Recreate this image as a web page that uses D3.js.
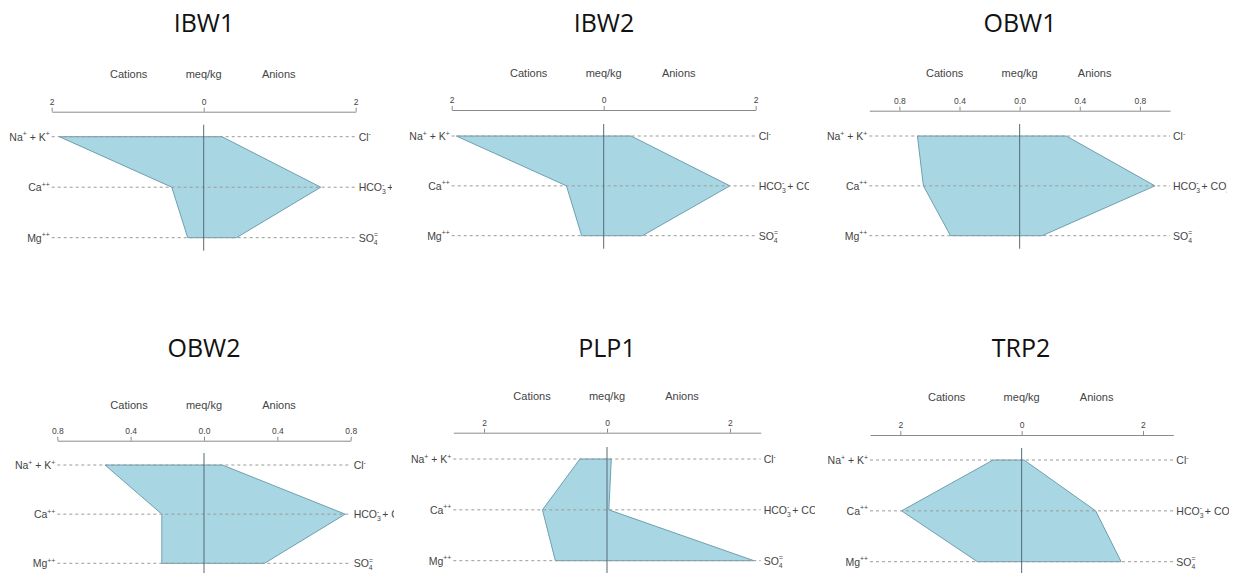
<!DOCTYPE html>
<html>
<head>
<meta charset="utf-8">
<script src="https://d3js.org/d3.v7.min.js"></script>
<style>
  body { margin: 0; background: #fff; }
  svg { display: block; }
  .title { font-family: 'Open Sans', sans-serif; font-size: 25px; fill: #111; }
  .small { font-family: 'Liberation Sans', Arial, sans-serif; fill: #444; }
  .axis path, .axis line { stroke: #8a8a8a; }
</style>
</head>
<body>
<div id="chart"></div>
<script>

// sample names, one panel each
var panelNames = ['IBW1', 'IBW2', 'OBW1', 'OBW2', 'PLP1', 'TRP2']

// cations (left side, meq/kg)
var naK = [1.90, 1.94, 0.68, 0.54, 0.44, 0.47]
var ca  = [0.42, 0.49, 0.64, 0.23, 1.05, 1.98]
var mg  = [0.21, 0.29, 0.46, 0.23, 0.84, 0.73]

// anions (right side, meq/kg)
var cl   = [0.24, 0.36, 0.31, 0.10, 0.07, 0.04]
var hco3 = [1.54, 1.66, 0.90, 0.77, 0.03, 1.22]
var so4  = [0.43, 0.51, 0.15, 0.33, 2.39, 1.64]

// axis domains and tick values per panel
var domains = [[-2, 2], [-2, 2], [-1, 1], [-0.8, 0.8], [-2.5, 2.5], [-2.5, 2.5]]
var tickSets = [
  [-2, 0, 2], [-2, 0, 2],
  [-0.8, -0.4, 0, 0.4, 0.8], [-0.8, -0.4, 0, 0.4, 0.8],
  [-2, 0, 2], [-2, 0, 2]
]
var tickDecimals = [0, 0, 1, 1, 0, 0]

// row labels, ^{} = superscript, _{} = subscript
var cationLabels = ['Na^{+} + K^{+}', 'Ca^{++}', 'Mg^{++}']
var anionLabels = ['Cl^{-}', 'HCO_{3}^{-} + CO_{3}^{=}', 'SO_{4}^{=}']
var headerLabels = ['Cations', 'meq/kg', 'Anions']

// placement of each panel on the page (not data)
var layout = [
  { range: [51.7, 355.7], axisY: 111.7, headY: 74, rows: [136.7, 187.7, 237.7], titleX: 204, titleY: 32, clip: [0, 0, 392, 300] },
  { range: [451.7, 755.7], axisY: 110, headY: 72.7, rows: [136, 186, 235.7], titleX: 604, titleY: 32, clip: [400, 0, 809, 300] },
  { range: [869.3, 1170], axisY: 110.7, headY: 72.7, rows: [136, 186, 235.7], titleX: 1020, titleY: 32, clip: [820, 0, 1227, 300] },
  { range: [57.3, 350.7], axisY: 440.7, headY: 405, rows: [465, 514.3, 563.3], titleX: 204, titleY: 357, clip: [0, 320, 394, 573] },
  { range: [453.3, 760.7], axisY: 432.7, headY: 396, rows: [459, 510, 560.7], titleX: 607, titleY: 357, clip: [400, 320, 815, 573] },
  { range: [870, 1173.3], axisY: 435, headY: 397.3, rows: [460, 510.7, 561.7], titleX: 1021, titleY: 357, clip: [820, 320, 1229, 573] }
]

var W = 1244, H = 573
var labelSize = 10.5

var svg = d3.select('#chart')
  .append('svg')
  .attr('width', W)
  .attr('height', H)

var defs = svg.append('defs')

// writes a label with super/subscripts into a text element
function richText(sel, str, size) {
  var parts = []
  var re = /(\^\{[^}]*\}|_\{[^}]*\})/g
  var last = 0, m
  while ((m = re.exec(str)) !== null) {
    if (m.index > last) parts.push({ t: str.slice(last, m.index), k: 'n' })
    parts.push({ t: m[0].slice(2, -1), k: m[0][0] == '^' ? 'sup' : 'sub' })
    last = re.lastIndex
  }
  if (last < str.length) parts.push({ t: str.slice(last), k: 'n' })

  var shift = 0, prev = 'n'
  parts.forEach(function(p) {
    var ts = sel.append('tspan').text(p.t)
    var target = p.k == 'sup' ? -size * 0.4 : p.k == 'sub' ? size * 0.3 : 0
    ts.attr('dy', target - shift)
    shift = target
    if (p.k != 'n') ts.style('font-size', (size * 0.65) + 'px')
    // stack superscript on top of the preceding subscript
    if (p.k == 'sup' && prev == 'sub') ts.attr('dx', -size * 0.36)
    prev = p.k
  })
}

panelNames.forEach(function(name, i) {
  var L = layout[i]

  defs.append('clipPath')
    .attr('id', 'clip' + i)
    .append('rect')
    .attr('x', L.clip[0])
    .attr('y', L.clip[1])
    .attr('width', L.clip[2] - L.clip[0])
    .attr('height', L.clip[3] - L.clip[1])

  var g = svg.append('g')
    .attr('clip-path', 'url(#clip' + i + ')')

  var x = d3.scaleLinear()
    .domain(domains[i])
    .range(L.range)

  var y = d3.scalePoint()
    .domain([0, 1, 2])
    .range([L.rows[0], L.rows[2]])

  // title
  svg.append('text')
    .attr('class', 'title')
    .attr('x', L.titleX)
    .attr('y', L.titleY)
    .attr('text-anchor', 'middle')
    .text(name)

  // header labels: Cations / meq/kg / Anions
  var x0 = x(0)
  g.selectAll('.head')
    .data(headerLabels)
    .enter().append('text')
    .attr('class', 'small')
    .attr('x', function(d, j) { return x0 + (j - 1) * 75 })
    .attr('y', L.headY + 4)
    .attr('text-anchor', 'middle')
    .style('font-size', '11px')
    .text(function(d) { return d })

  // top axis with absolute values
  var fmt = d3.format('.' + tickDecimals[i] + 'f')
  var axis = g.append('g')
    .attr('class', 'axis')
    .attr('transform', 'translate(0,' + L.axisY + ')')
    .call(d3.axisTop(x)
      .tickValues(tickSets[i])
      .tickSize(4)
      .tickSizeOuter(0)
      .tickPadding(3)
      .tickFormat(function(d) { return fmt(Math.abs(d)) }))
  axis.selectAll('text')
    .attr('class', 'small')
    .style('font-size', '8.5px')
    .style('font-family', "'Liberation Sans', Arial, sans-serif")
    .attr('fill', '#444')

  // the stiff polygon
  var pts = [
    [-naK[i], 0], [cl[i], 0], [hco3[i], 1], [so4[i], 2], [-mg[i], 2], [-ca[i], 1]
  ]
  g.append('path')
    .datum(pts)
    .attr('d', d3.line()
      .x(function(d) { return x(d[0]) })
      .y(function(d) { return y(d[1]) })
      .curve(d3.curveLinearClosed))
    .attr('fill', '#a9d6e3')
    .attr('stroke', '#6f9fb1')
    .attr('stroke-width', 1)

  // dashed row guides
  g.selectAll('.guide')
    .data([0, 1, 2])
    .enter().append('line')
    .attr('x1', L.range[0])
    .attr('x2', L.range[1])
    .attr('y1', function(d) { return y(d) })
    .attr('y2', function(d) { return y(d) })
    .attr('stroke', '#9a9a9a')
    .attr('stroke-width', 1)
    .attr('stroke-dasharray', '3,3')

  // zero line
  g.append('line')
    .attr('x1', x0)
    .attr('x2', x0)
    .attr('y1', L.rows[0] - 12)
    .attr('y2', L.rows[2] + 13)
    .attr('stroke', '#556b75')
    .attr('stroke-width', 1)

  // cation labels on the left
  cationLabels.forEach(function(lab, j) {
    var t = g.append('text')
      .attr('class', 'small')
      .attr('x', L.range[0] - 2)
      .attr('y', y(j) + 3.8)
      .attr('text-anchor', 'end')
      .style('font-size', labelSize + 'px')
    richText(t, lab, labelSize)
  })

  // anion labels on the right
  anionLabels.forEach(function(lab, j) {
    var t = g.append('text')
      .attr('class', 'small')
      .attr('x', L.range[1] + 3)
      .attr('y', y(j) + 3.8)
      .style('font-size', labelSize + 'px')
    richText(t, lab, labelSize)
  })
})

</script>
</body>
</html>
